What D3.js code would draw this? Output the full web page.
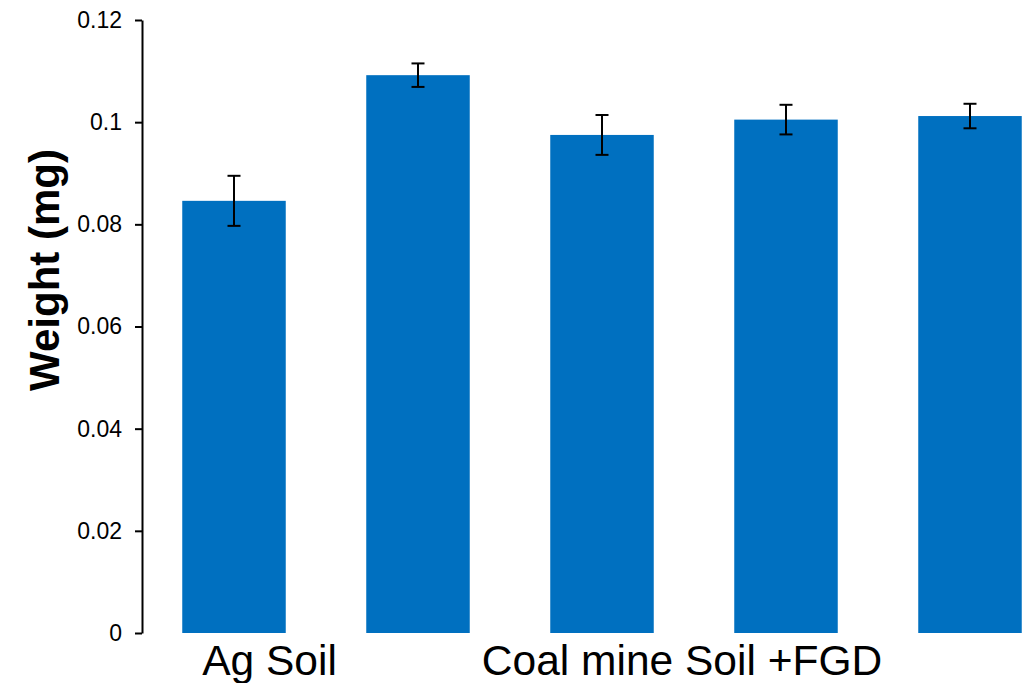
<!DOCTYPE html>
<html>
<head>
<meta charset="utf-8">
<script src="https://cdn.jsdelivr.net/npm/d3@7"></script>
<style>
  html, body { margin: 0; padding: 0; background: #fff; }
  svg { display: block; }
  text { font-family: Arial, "Liberation Sans", sans-serif; }
</style>
</head>
<body>
<svg id="chart" width="1033" height="683"></svg>
<script>
// ---- data ----
const categories = ["C1", "C2", "C3", "C4", "C5"];
const weights = [0.0846, 0.1092, 0.0975, 0.1005, 0.1012];
const errors = [0.0049, 0.0023, 0.0039, 0.0029, 0.0024];
const yTicks = [0, 0.02, 0.04, 0.06, 0.08, 0.1, 0.12];
const yTickLabels = ["0", "0.02", "0.04", "0.06", "0.08", "0.1", "0.12"];
const groupLabels = ["Ag Soil", "Coal mine Soil +FGD"];
const yTitle = "Weight (mg)";

// ---- layout ----
const svg = d3.select("#chart");
const axisX = 142, yTop = 20, yBottom = 633, xRight = 1062;

const x = d3.scaleBand().domain(categories).range([axisX, xRight])
  .paddingInner(0.4375).paddingOuter(0.21875);
const y = d3.scaleLinear().domain([0, 0.12]).range([yBottom, yTop]);

// bars
svg.append("g").selectAll("rect").data(weights).join("rect")
  .attr("x", (d, i) => x(categories[i]))
  .attr("width", x.bandwidth())
  .attr("y", d => y(d))
  .attr("height", d => y(0) - y(d))
  .attr("fill", "#0070C0");

// error bars
const eg = svg.append("g").attr("stroke", "#000").attr("stroke-width", 2);
weights.forEach((v, i) => {
  const cx = x(categories[i]) + x.bandwidth() / 2;
  const hi = y(v + errors[i]), lo = y(v - errors[i]);
  eg.append("line").attr("x1", cx).attr("x2", cx).attr("y1", hi).attr("y2", lo);
  eg.append("line").attr("x1", cx - 6.5).attr("x2", cx + 6.5).attr("y1", hi).attr("y2", hi);
  eg.append("line").attr("x1", cx - 6.5).attr("x2", cx + 6.5).attr("y1", lo).attr("y2", lo);
});

// y axis
const yAxis = d3.axisLeft(y).tickValues(yTicks)
  .tickFormat((d, i) => yTickLabels[i]).tickSize(7).tickSizeOuter(0).tickPadding(13);
const ga = svg.append("g").attr("transform", `translate(${axisX},0)`).call(yAxis);
ga.select(".domain").attr("stroke", "#000").attr("stroke-width", 2);
ga.selectAll(".tick line").attr("stroke", "#000").attr("stroke-width", 2);
ga.selectAll(".tick text").attr("font-size", 23).attr("fill", "#000")
  .attr("font-family", "Arial, 'Liberation Sans', sans-serif");

// y title
svg.append("text")
  .attr("transform", `translate(59, 270) rotate(-90)`)
  .attr("text-anchor", "middle")
  .attr("font-size", 42).attr("font-weight", "bold").attr("fill", "#000")
  .text(yTitle);

// group labels
const c = i => x(categories[i]) + x.bandwidth() / 2;
svg.append("text")
  .attr("x", c(0) + (c(1) - c(0)) * 0.193)
  .attr("y", 675).attr("text-anchor", "middle")
  .attr("font-size", 42.5).attr("fill", "#000")
  .text(groupLabels[0]);
svg.append("text")
  .attr("x", c(2) + (c(3) - c(2)) * 0.435)
  .attr("y", 675).attr("text-anchor", "middle")
  .attr("font-size", 42.5).attr("fill", "#000")
  .text(groupLabels[1]);
</script>
</body>
</html>
